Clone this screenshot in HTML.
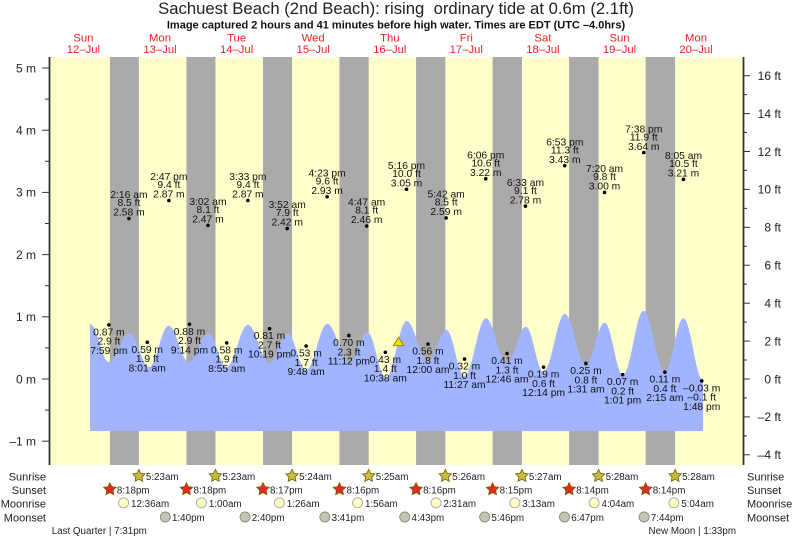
<!DOCTYPE html>
<html><head><meta charset="utf-8"><style>
html,body{margin:0;padding:0;background:#fff;}
svg{display:block;font-family:"Liberation Sans",Arial,sans-serif;}
.d{font-size:10.3px;fill:#111;text-anchor:middle;}
.ax{font-size:12px;fill:#222;}
.lg{font-size:11px;fill:#222;}
.lt{font-size:9.8px;fill:#222;}
.day{font-size:11.3px;fill:#f02020;text-anchor:middle;}
</style></head><body>
<svg width="793" height="539" viewBox="0 0 793 539" xmlns="http://www.w3.org/2000/svg">
<defs>
<polygon id="star" points="0,-6.5 1.91,-2.63 6.18,-2.01 3.09,1 3.82,5.26 0,3.25 -3.82,5.26 -3.09,1 -6.18,-2.01 -1.91,-2.63"/>
</defs>
<rect x="0" y="0" width="793" height="539" fill="#fff"/>
<text x="396" y="14" text-anchor="middle" style="font-size:16.7px;fill:#222;white-space:pre" xml:space="preserve">Sachuest Beach (2nd Beach): rising  ordinary tide at 0.6m (2.1ft)</text>
<text x="396" y="28.7" text-anchor="middle" style="font-size:11px;font-weight:bold;fill:#111">Image captured 2 hours and 41 minutes before high water. Times are EDT (UTC –4.0hrs)</text>

<text class="day" x="83.4" y="41.3">Sun</text><text class="day" x="83.4" y="53">12–Jul</text>
<text class="day" x="160" y="41.3">Mon</text><text class="day" x="160" y="53">13–Jul</text>
<text class="day" x="236.6" y="41.3">Tue</text><text class="day" x="236.6" y="53">14–Jul</text>
<text class="day" x="313.2" y="41.3">Wed</text><text class="day" x="313.2" y="53">15–Jul</text>
<text class="day" x="389.8" y="41.3">Thu</text><text class="day" x="389.8" y="53">16–Jul</text>
<text class="day" x="466.3" y="41.3">Fri</text><text class="day" x="466.3" y="53">17–Jul</text>
<text class="day" x="542.9" y="41.3">Sat</text><text class="day" x="542.9" y="53">18–Jul</text>
<text class="day" x="619.5" y="41.3">Sun</text><text class="day" x="619.5" y="53">19–Jul</text>
<text class="day" x="696" y="41.3">Mon</text><text class="day" x="696" y="53">20–Jul</text>

<rect x="49.5" y="57" width="694" height="408" fill="#ffffcc"/>
<g fill="#aaaaaa">
<rect x="109.9" y="57" width="28.98" height="408"/>
<rect x="186.47" y="57" width="28.98" height="408"/>
<rect x="262.98" y="57" width="29.09" height="408"/>
<rect x="339.5" y="57" width="29.19" height="408"/>
<rect x="416.07" y="57" width="29.25" height="408"/>
<rect x="492.58" y="57" width="29.36" height="408"/>
<rect x="569.1" y="57" width="29.46" height="408"/>
<rect x="645.67" y="57" width="29.46" height="408"/>
</g>

<path fill="#a0b4ff" d="M90,431 L90,324 C97,324 101.9,362 108.9,362 C116.5,362 121.9,333 129.5,333 C136.7,333 141.8,367 149,367 C156.3,367 161.3,325.7 168.6,325.7 C176.1,325.7 181.5,362 189,362 C196.1,362 201,333 208.1,333 C215,333 219.8,367 226.7,367 C234.5,367 240.1,325 247.9,325 C256,325 261.6,363.3 269.7,363.3 C276.3,363.3 280.9,333.3 287.5,333.3 C294.5,333.3 299.3,370 306.3,370 C314.1,370 319.5,324 327.3,324 C335.4,324 341.2,363 349.3,363 C356,363 360.8,332.5 367.5,332.5 C374.3,332.5 379.2,378 386,378 C393.6,378 399,321 406.6,321 C414.5,321 420.1,362 428,362 C434.8,362 439.6,330 446.4,330 C453.1,330 457.7,376 464.4,376 C472.4,376 478,318.3 486,318.3 C493.7,318.3 499,363.5 506.7,363.5 C513.8,363.5 518.8,326.7 525.9,326.7 C532.4,326.7 537,371.7 543.5,371.7 C551.4,371.7 557,314 564.9,314 C572.6,314 577.9,365 585.6,365 C592.7,365 597.6,322.7 604.7,322.7 C611.5,322.7 616.2,375 623,375 C630.6,375 636,310.7 643.6,310.7 C651.4,310.7 656.9,371.7 664.7,371.7 C671.6,371.7 676.5,318.3 683.4,318.3 C690.7,318.3 695.7,380 703,380 L703,431 Z"/>

<!-- dots -->
<g fill="#000">
<circle cx="128.93" cy="218.52" r="1.8"/><circle cx="168.88" cy="200.49" r="1.8"/><circle cx="207.95" cy="225.37" r="1.8"/><circle cx="247.88" cy="200.49" r="1.8"/><circle cx="287.18" cy="228.48" r="1.8"/><circle cx="327.1" cy="196.75" r="1.8"/><circle cx="366.67" cy="225.99" r="1.8"/><circle cx="406.5" cy="189.29" r="1.8"/><circle cx="446.17" cy="217.9" r="1.8"/><circle cx="485.73" cy="178.72" r="1.8"/><circle cx="525.45" cy="206.08" r="1.8"/><circle cx="564.81" cy="165.65" r="1.8"/><circle cx="604.52" cy="192.4" r="1.8"/><circle cx="643.75" cy="152.59" r="1.8"/><circle cx="683.48" cy="179.34" r="1.8"/>
<circle cx="108.9" cy="324.89" r="1.8"/><circle cx="147.28" cy="342.3" r="1.8"/><circle cx="189.46" cy="324.26" r="1.8"/><circle cx="226.73" cy="342.92" r="1.8"/><circle cx="269.48" cy="328.62" r="1.8"/><circle cx="306.11" cy="346.03" r="1.8"/><circle cx="348.86" cy="335.46" r="1.8"/><circle cx="385.34" cy="352.25" r="1.8"/><circle cx="427.98" cy="344.17" r="1.8"/><circle cx="464.53" cy="359.1" r="1.8"/><circle cx="507" cy="353.5" r="1.8"/><circle cx="543.58" cy="367.18" r="1.8"/><circle cx="585.96" cy="363.45" r="1.8"/><circle cx="622.65" cy="374.65" r="1.8"/><circle cx="664.87" cy="372.16" r="1.8"/><circle cx="701.72" cy="380.87" r="1.8"/>
</g>

<!-- high labels -->
<g class="d">
<text x="128.93" y="198.2">2:16 am</text><text x="128.93" y="206.2">8.5 ft</text><text x="128.93" y="215.7">2.58 m</text>
<text x="168.88" y="180.2">2:47 pm</text><text x="168.88" y="188.2">9.4 ft</text><text x="168.88" y="197.7">2.87 m</text>
<text x="207.95" y="205.1">3:02 am</text><text x="207.95" y="213.1">8.1 ft</text><text x="207.95" y="222.6">2.47 m</text>
<text x="247.88" y="180.2">3:33 pm</text><text x="247.88" y="188.2">9.4 ft</text><text x="247.88" y="197.7">2.87 m</text>
<text x="287.18" y="208.2">3:52 am</text><text x="287.18" y="216.2">7.9 ft</text><text x="287.18" y="225.7">2.42 m</text>
<text x="327.1" y="176.5">4:23 pm</text><text x="327.1" y="184.5">9.6 ft</text><text x="327.1" y="194">2.93 m</text>
<text x="366.67" y="205.7">4:47 am</text><text x="366.67" y="213.7">8.1 ft</text><text x="366.67" y="223.2">2.46 m</text>
<text x="406.5" y="169">5:16 pm</text><text x="406.5" y="177">10.0 ft</text><text x="406.5" y="186.5">3.05 m</text>
<text x="446.17" y="197.6">5:42 am</text><text x="446.17" y="205.6">8.5 ft</text><text x="446.17" y="215.1">2.59 m</text>
<text x="485.73" y="158.4">6:06 pm</text><text x="485.73" y="166.4">10.6 ft</text><text x="485.73" y="175.9">3.22 m</text>
<text x="525.45" y="185.8">6:33 am</text><text x="525.45" y="193.8">9.1 ft</text><text x="525.45" y="203.3">2.78 m</text>
<text x="564.81" y="145.4">6:53 pm</text><text x="564.81" y="153.4">11.3 ft</text><text x="564.81" y="162.9">3.43 m</text>
<text x="604.52" y="172.1">7:20 am</text><text x="604.52" y="180.1">9.8 ft</text><text x="604.52" y="189.6">3.00 m</text>
<text x="643.75" y="132.3">7:38 pm</text><text x="643.75" y="140.3">11.9 ft</text><text x="643.75" y="149.8">3.64 m</text>
<text x="683.48" y="159">8:05 am</text><text x="683.48" y="167">10.5 ft</text><text x="683.48" y="176.5">3.21 m</text>
</g>

<!-- low labels -->
<g class="d">
<text x="108.9" y="335.4">0.87 m</text><text x="108.9" y="344.7">2.9 ft</text><text x="108.9" y="353.9">7:59 pm</text>
<text x="147.28" y="352.8">0.59 m</text><text x="147.28" y="362.1">1.9 ft</text><text x="147.28" y="371.3">8:01 am</text>
<text x="189.46" y="334.8">0.88 m</text><text x="189.46" y="344.1">2.9 ft</text><text x="189.46" y="353.3">9:14 pm</text>
<text x="226.73" y="353.4">0.58 m</text><text x="226.73" y="362.7">1.9 ft</text><text x="226.73" y="371.9">8:55 am</text>
<text x="269.48" y="339.1">0.81 m</text><text x="269.48" y="348.4">2.7 ft</text><text x="269.48" y="357.6">10:19 pm</text>
<text x="306.11" y="356.5">0.53 m</text><text x="306.11" y="365.8">1.7 ft</text><text x="306.11" y="375">9:48 am</text>
<text x="348.86" y="346">0.70 m</text><text x="348.86" y="355.3">2.3 ft</text><text x="348.86" y="364.5">11:12 pm</text>
<text x="385.34" y="362.8">0.43 m</text><text x="385.34" y="372.1">1.4 ft</text><text x="385.34" y="381.3">10:38 am</text>
<text x="427.98" y="354.7">0.56 m</text><text x="427.98" y="364">1.8 ft</text><text x="427.98" y="373.2">12:00 am</text>
<text x="464.53" y="369.6">0.32 m</text><text x="464.53" y="378.9">1.0 ft</text><text x="464.53" y="388.1">11:27 am</text>
<text x="507" y="364">0.41 m</text><text x="507" y="373.3">1.3 ft</text><text x="507" y="382.5">12:46 am</text>
<text x="543.58" y="377.7">0.19 m</text><text x="543.58" y="387">0.6 ft</text><text x="543.58" y="396.2">12:14 pm</text>
<text x="585.96" y="374">0.25 m</text><text x="585.96" y="383.3">0.8 ft</text><text x="585.96" y="392.5">1:31 am</text>
<text x="622.65" y="385.2">0.07 m</text><text x="622.65" y="394.5">0.2 ft</text><text x="622.65" y="403.7">1:01 pm</text>
<text x="664.87" y="382.7">0.11 m</text><text x="664.87" y="392">0.4 ft</text><text x="664.87" y="401.2">2:15 am</text>
<text x="701.72" y="391.4">–0.03 m</text><text x="701.72" y="400.7">–0.1 ft</text><text x="701.72" y="409.9">1:48 pm</text>
</g>

<polygon points="398.6,337.3 393.4,345.6 403.8,345.6" fill="#f4e000" stroke="#9a8a00" stroke-width="1"/>

<!-- axes -->
<g stroke="#333" fill="none">
<line x1="49.5" y1="57" x2="49.5" y2="465" stroke-width="1.8"/>
<line x1="743.5" y1="57" x2="743.5" y2="465" stroke-width="1.8"/>
<g stroke-width="1">
<line x1="42" y1="68" x2="49" y2="68"/><line x1="42" y1="130.2" x2="49" y2="130.2"/><line x1="42" y1="192.4" x2="49" y2="192.4"/><line x1="42" y1="254.6" x2="49" y2="254.6"/><line x1="42" y1="316.8" x2="49" y2="316.8"/><line x1="42" y1="379" x2="49" y2="379"/><line x1="42" y1="441.2" x2="49" y2="441.2"/>
<line x1="45" y1="99.1" x2="49" y2="99.1"/><line x1="45" y1="161.3" x2="49" y2="161.3"/><line x1="45" y1="223.5" x2="49" y2="223.5"/><line x1="45" y1="285.7" x2="49" y2="285.7"/><line x1="45" y1="347.9" x2="49" y2="347.9"/><line x1="45" y1="410.1" x2="49" y2="410.1"/>
<line x1="744" y1="75.7" x2="750" y2="75.7"/><line x1="744" y1="113.6" x2="750" y2="113.6"/><line x1="744" y1="151.5" x2="750" y2="151.5"/><line x1="744" y1="189.4" x2="750" y2="189.4"/><line x1="744" y1="227.3" x2="750" y2="227.3"/><line x1="744" y1="265.2" x2="750" y2="265.2"/><line x1="744" y1="303.2" x2="750" y2="303.2"/><line x1="744" y1="341.1" x2="750" y2="341.1"/><line x1="744" y1="379" x2="750" y2="379"/><line x1="744" y1="416.9" x2="750" y2="416.9"/><line x1="744" y1="454.8" x2="750" y2="454.8"/>
<line x1="744" y1="94.6" x2="747" y2="94.6"/><line x1="744" y1="132.5" x2="747" y2="132.5"/><line x1="744" y1="170.4" x2="747" y2="170.4"/><line x1="744" y1="208.4" x2="747" y2="208.4"/><line x1="744" y1="246.3" x2="747" y2="246.3"/><line x1="744" y1="284.2" x2="747" y2="284.2"/><line x1="744" y1="322.1" x2="747" y2="322.1"/><line x1="744" y1="360" x2="747" y2="360"/><line x1="744" y1="397.9" x2="747" y2="397.9"/><line x1="744" y1="435.9" x2="747" y2="435.9"/>
</g>
</g>
<g class="ax" text-anchor="end">
<text x="36" y="72.3">5 m</text><text x="36" y="134.5">4 m</text><text x="36" y="196.7">3 m</text><text x="36" y="258.9">2 m</text><text x="36" y="321.1">1 m</text><text x="36" y="383.3">0 m</text><text x="36" y="445.5">–1 m</text>
<text x="781" y="80">16 ft</text><text x="781" y="117.9">14 ft</text><text x="781" y="155.8">12 ft</text><text x="781" y="193.7">10 ft</text><text x="781" y="231.6">8 ft</text><text x="781" y="269.5">6 ft</text><text x="781" y="307.5">4 ft</text><text x="781" y="345.4">2 ft</text><text x="781" y="383.3">0 ft</text><text x="781" y="421.2">–2 ft</text><text x="781" y="459.1">–4 ft</text>
</g>

<!-- legend labels -->
<g class="lg" text-anchor="end">
<text x="46" y="480.7">Sunrise</text><text x="46" y="494">Sunset</text><text x="46" y="507.3">Moonrise</text><text x="46" y="521.3">Moonset</text>
</g>
<g class="lg">
<text x="747" y="480.7">Sunrise</text><text x="747" y="494">Sunset</text><text x="747" y="507.3">Moonrise</text><text x="747" y="521.3">Moonset</text>
</g>

<!-- sunrise -->
<g fill="#c8bc3c" stroke="#7a6a10" stroke-width="0.9">
<use href="#star" x="138.88" y="476"/><use href="#star" x="215.45" y="476"/><use href="#star" x="292.07" y="476"/><use href="#star" x="368.69" y="476"/><use href="#star" x="445.32" y="476"/><use href="#star" x="521.94" y="476"/><use href="#star" x="598.56" y="476"/><use href="#star" x="675.13" y="476"/>
</g>
<g class="lt">
<text x="145.9" y="480.2">5:23am</text><text x="222.5" y="480.2">5:23am</text><text x="299.1" y="480.2">5:24am</text><text x="375.7" y="480.2">5:25am</text><text x="452.3" y="480.2">5:26am</text><text x="528.9" y="480.2">5:27am</text><text x="605.6" y="480.2">5:28am</text><text x="682.1" y="480.2">5:28am</text>
</g>
<!-- sunset -->
<g fill="#e8281c" stroke="#7a5a10" stroke-width="0.9">
<use href="#star" x="109.9" y="489.3"/><use href="#star" x="186.47" y="489.3"/><use href="#star" x="262.98" y="489.3"/><use href="#star" x="339.5" y="489.3"/><use href="#star" x="416.07" y="489.3"/><use href="#star" x="492.58" y="489.3"/><use href="#star" x="569.1" y="489.3"/><use href="#star" x="645.67" y="489.3"/>
</g>
<g class="lt">
<text x="116.9" y="493.5">8:18pm</text><text x="193.5" y="493.5">8:18pm</text><text x="270" y="493.5">8:17pm</text><text x="346.5" y="493.5">8:16pm</text><text x="423.1" y="493.5">8:16pm</text><text x="499.6" y="493.5">8:15pm</text><text x="576.1" y="493.5">8:14pm</text><text x="652.7" y="493.5">8:14pm</text>
</g>
<!-- moonrise -->
<g fill="#ffffc8" stroke="#a8a8a0" stroke-width="0.9">
<circle cx="123.61" cy="502.8" r="5"/><circle cx="201.46" cy="502.8" r="5"/><circle cx="279.41" cy="502.8" r="5"/><circle cx="357.58" cy="502.8" r="5"/><circle cx="436.01" cy="502.8" r="5"/><circle cx="514.81" cy="502.8" r="5"/><circle cx="594.09" cy="502.8" r="5"/><circle cx="673.85" cy="502.8" r="5"/>
</g>
<g class="lt">
<text x="131" y="506.8">12:36am</text><text x="208.9" y="506.8">1:00am</text><text x="286.8" y="506.8">1:26am</text><text x="365" y="506.8">1:56am</text><text x="443.4" y="506.8">2:31am</text><text x="522.2" y="506.8">3:13am</text><text x="601.5" y="506.8">4:04am</text><text x="681.2" y="506.8">5:04am</text>
</g>
<!-- moonset -->
<g fill="#c8c4b4" stroke="#8a8a80" stroke-width="0.9">
<circle cx="165.3" cy="517" r="5"/><circle cx="245.06" cy="517" r="5"/><circle cx="324.87" cy="517" r="5"/><circle cx="404.74" cy="517" r="5"/><circle cx="484.66" cy="517" r="5"/><circle cx="564.48" cy="517" r="5"/><circle cx="644.08" cy="517" r="5"/>
</g>
<g class="lt">
<text x="172" y="521">1:40pm</text><text x="251.8" y="521">2:40pm</text><text x="331.6" y="521">3:41pm</text><text x="411.5" y="521">4:43pm</text><text x="491.4" y="521">5:46pm</text><text x="571.2" y="521">6:47pm</text><text x="650.8" y="521">7:44pm</text>
</g>

<text class="lt" x="51.7" y="534">Last Quarter | 7:31pm</text>
<text class="lt" x="736" y="534" text-anchor="end">New Moon | 1:33pm</text>
</svg>
</body></html>
